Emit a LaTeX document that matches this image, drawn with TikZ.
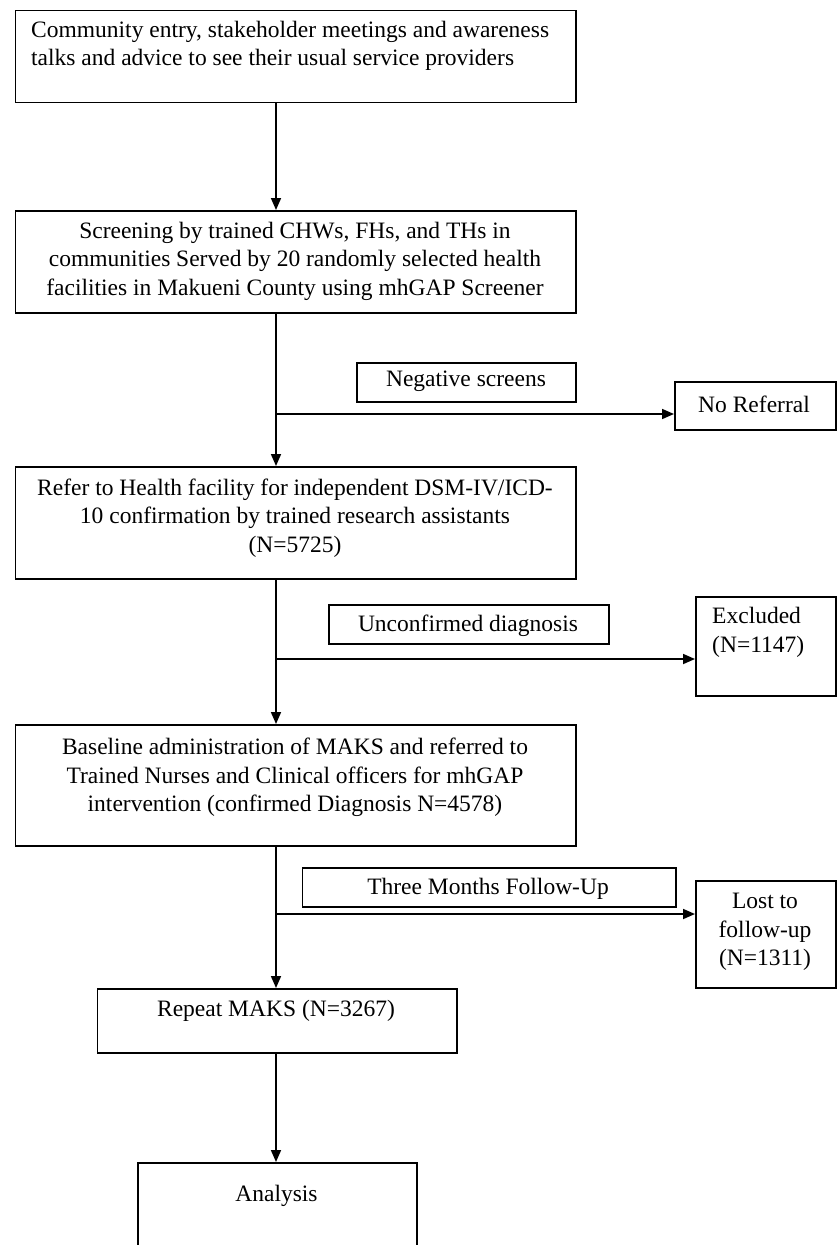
\documentclass[tikz,border=0pt]{standalone}
\usepackage{fontspec}
\setmainfont{Liberation Serif}
\usetikzlibrary{arrows.meta}
\begin{document}
\begin{tikzpicture}[x=1pt,y=-1pt,
  box/.style={draw, line width=1.8pt, rectangle, anchor=north west, inner sep=0pt},
  txt/.style={font=\fontsize{23.5}{28.5}\selectfont, inner sep=0pt, align=center},
  conn/.style={line width=1.7pt},
  arr/.style={conn, -{Triangle[length=12pt,width=10pt]}}]
\useasboundingbox (0,0) rectangle (837,1245);
\fill[white] (0,0) rectangle (837,1245);
% boxes
\node[box, minimum width=560.5pt, minimum height=92pt]  (b1)    at (14.5,9.5) {};
\node[box, minimum width=560.5pt, minimum height=102pt] (b2)    at (14.5,210) {};
\node[box, minimum width=219pt,   minimum height=39pt]  (neg)   at (356,362) {};
\node[box, minimum width=161pt,   minimum height=48pt]  (noref) at (674,381) {};
\node[box, minimum width=560.5pt, minimum height=112pt] (b3)    at (14.5,466) {};
\node[box, minimum width=280pt,   minimum height=39pt]  (unc)   at (328,604) {};
\node[box, minimum width=140pt,   minimum height=99pt]  (excl)  at (695,596) {};
\node[box, minimum width=560.5pt, minimum height=121pt] (b4)    at (14.5,724) {};
\node[box, minimum width=373.5pt, minimum height=39pt]  (three) at (301.5,867) {};
\node[box, minimum width=140pt,   minimum height=107pt] (lost)  at (695,880) {};
\node[box, minimum width=359.5pt, minimum height=64pt]  (b5)    at (96.5,988) {};
\node[box, minimum width=279pt,   minimum height=100pt] (ana)   at (137,1162) {};
% texts
\node[txt, anchor=west, align=left] (t1) at (31,46) {Community entry, stakeholder meetings and awareness\\talks and advice to see their usual service providers};
\node[txt] (t2) at (295,261) {Screening by trained CHWs, FHs, and THs in\\communities Served by 20 randomly selected health\\facilities in Makueni County using mhGAP Screener};
\node[txt] (t3) at (295,518) {Refer to Health facility for independent DSM-IV/ICD-\\10 confirmation by trained research assistants\\(N=5725)};
\node[txt] (t4) at (295,777.5) {Baseline administration of MAKS and referred to\\Trained Nurses and Clinical officers for mhGAP\\intervention (confirmed Diagnosis N=4578)};
\node[txt] (tneg) at (466,381) {Negative screens};
\node[txt] (tnoref) at (754,404) {No Referral};
\node[txt] (tunc) at (468,626) {Unconfirmed diagnosis};
\node[txt, anchor=west, align=left] (texcl) at (712,632.5) {Excluded\\(N=1147)};
\node[txt] (tthree) at (488,889) {Three Months Follow-Up};
\node[txt] (tlost) at (765,932) {Lost to\\follow-up\\(N=1311)};
\node[txt] (t5) at (276,1011) {Repeat MAKS (N=3267)};
\node[txt] (tana) at (276.5,1196) {Analysis};
% connectors
\coordinate (sp) at (276,0);
\coordinate (j1) at (276,414);
\coordinate (j2) at (276,659);
\coordinate (j3) at (276,914);
\draw[arr] (sp |- b1.south) -- (sp |- b2.north);
\draw[arr] (sp |- b2.south) -- (sp |- b3.north);
\draw[arr] (j1) -- (j1 -| noref.west);
\draw[arr] (sp |- b3.south) -- (sp |- b4.north);
\draw[arr] (j2) -- (j2 -| excl.west);
\draw[arr] (sp |- b4.south) -- (sp |- b5.north);
\draw[arr] (j3) -- (j3 -| lost.west);
\draw[arr] (sp |- b5.south) -- (sp |- ana.north);
\end{tikzpicture}
\end{document}
